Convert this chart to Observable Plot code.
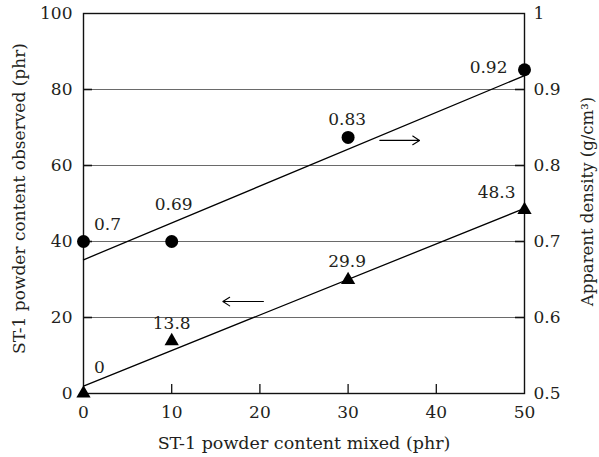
<!DOCTYPE html>
<html>
<head>
<meta charset="utf-8">
<script src="https://cdn.jsdelivr.net/npm/d3@7"></script>
<script src="https://cdn.jsdelivr.net/npm/@observablehq/plot@0.6"></script>
<style>
  html, body { margin: 0; padding: 0; background: #fff; }
  #chart svg, #chart svg text { font-family: "DejaVu Serif", serif !important; }
</style>
</head>
<body>
<div id="chart"></div>
<script>
// ---- data ----
const mixed = [0, 10, 30, 50];                         // ST-1 powder content mixed (phr)
const observed = [0, 13.8, 29.9, 48.3];                // observed content (phr), triangles
const observedLabels = ["0", "13.8", "29.9", "48.3"];
const densityReported = [0.70, 0.69, 0.83, 0.92];      // apparent density (g/cm3), as labelled
const densityMarker = [0.70, 0.70, 0.837, 0.926];      // where the circles sit in the picture
const densityLabels = ["0.7", "0.69", "0.83", "0.92"];
const xTicks = [0, 10, 20, 30, 40, 50];
const yTicks = [0, 20, 40, 60, 80, 100];
const densityTicks = [0.5, 0.6, 0.7, 0.8, 0.9, 1];
const gridValues = [20, 40, 60, 80];
const arrows = [
  {x1: 33.6, x2: 38.1, y: 66.6},   // points right -> density axis
  {x1: 20.4, x2: 15.8, y: 24.2}    // points left  -> observed axis
];
const xTitle = "ST-1 powder content mixed (phr)";
const yTitle = "ST-1 powder content observed (phr)";
const y2Title = "Apparent density (g/cm³)";

// density (0.5..1) mapped onto left scale (0..100)
const toLeft = d => (d - 0.5) * 200;
const fromLeft = v => 0.5 + v / 200;

const tri = mixed.map((x, i) => ({x, y: observed[i], label: observedLabels[i]}));
const circ = mixed.map((x, i) => ({x, y: toLeft(densityMarker[i]), label: densityLabels[i]}));
const circReg = mixed.map((x, i) => ({x, y: toLeft(densityReported[i])}));

const W = 599, H = 457, mL = 83, mR = 75, mT = 13, mB = 64;
const pw = W - mL - mR, ph = H - mT - mB;
const ink = "#231f20";
const serif = "DejaVu Serif";

function labels(data, specs) {
  return specs.map((s, k) => Plot.text(data, {
    filter: (d, i) => i === k, x: "x", y: "y", text: "label",
    dx: s[0], dy: s[1], textAnchor: s[2] || "middle", lineAnchor: "middle",
    fill: ink, fontSize: 17, fontFamily: serif
  }));
}

const chart = Plot.plot({
  width: W, height: H,
  marginLeft: mL, marginRight: mR, marginTop: mT, marginBottom: mB,
  style: {fontFamily: serif, fontSize: "17px", color: ink, background: "#fff"},
  x: {domain: [0, 50]},
  y: {domain: [0, 100]},
  marks: [
    Plot.gridY(gridValues, {stroke: "#6a6a6a", strokeOpacity: 1, strokeWidth: 1.1}),
    // inward ticks
    Plot.tickY(gridValues, {y: d => d, stroke: "#111", strokeWidth: 1.6, insetRight: pw - 9}),
    Plot.tickY(gridValues, {y: d => d, stroke: "#111", strokeWidth: 1.6, insetLeft: pw - 9}),
    Plot.tickX(xTicks.slice(1, -1), {x: d => d, stroke: "#111", strokeWidth: 1.3, insetTop: ph - 9}),
    Plot.frame({stroke: "#111", strokeWidth: 1.4}),
    Plot.axisX(xTicks, {tickSize: 0, tickPadding: 12, label: null, fill: ink, fontFamily: serif, fontSize: 17}),
    Plot.axisY(yTicks, {anchor: "left", tickSize: 0, tickPadding: 11, label: null, fill: ink, fontFamily: serif, fontSize: 17}),
    Plot.axisY(densityTicks.map(toLeft), {anchor: "right", tickSize: 0, tickPadding: 9, label: null, fill: ink, fontFamily: serif, fontSize: 17,
      tickFormat: v => String(Math.round(fromLeft(v) * 10) / 10)}),
    // titles
    Plot.text([xTitle], {frameAnchor: "bottom", dy: 50, textAnchor: "middle", lineAnchor: "middle", fontSize: 17.5, fill: ink, fontFamily: serif}),
    Plot.text([yTitle], {frameAnchor: "left", dx: -64, dy: -5, rotate: -90, textAnchor: "middle", lineAnchor: "middle", fontSize: 17, fill: ink, fontFamily: serif}),
    Plot.text([y2Title], {frameAnchor: "right", dx: 63, dy: -2, rotate: -90, textAnchor: "middle", lineAnchor: "middle", fontSize: 16.5, fill: ink, fontFamily: serif}),
    // regression lines
    Plot.linearRegressionY(tri, {x: "x", y: "y", ci: 0, stroke: "#000", strokeWidth: 1.3}),
    Plot.linearRegressionY(circReg, {x: "x", y: "y", ci: 0, stroke: "#000", strokeWidth: 1.3}),
    // markers
    Plot.dot(circ, {x: "x", y: "y", r: 6.5, fill: "#000", stroke: "none"}),
    Plot.dot(tri, {x: "x", y: "y", r: 5.3, symbol: "triangle", fill: "#000", stroke: "none"}),
    // value labels
    ...labels(circ, [[24, -17], [2, -37], [-1, -18], [-17, -2, "end"]]),
    ...labels(tri, [[16, -26], [0, -18], [-1, -18], [-9, -17, "end"]]),
    // direction arrows
    Plot.arrow(arrows, {x1: "x1", x2: "x2", y1: "y", y2: "y", stroke: "#000", strokeWidth: 1.1, headLength: 11, headAngle: 65})
  ]
});
document.getElementById("chart").appendChild(chart);
</script>
</body>
</html>
